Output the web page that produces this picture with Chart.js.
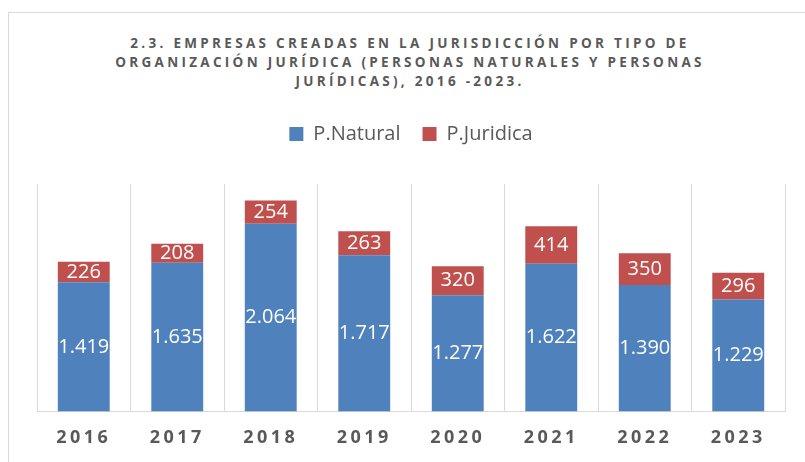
<!DOCTYPE html>
<html lang="es">
<head>
<meta charset="utf-8">
<title>Empresas creadas por tipo de organización jurídica</title>
<script src="https://cdn.jsdelivr.net/npm/chart.js@4.4.1/dist/chart.umd.min.js"></script>
<style>
  html, body { margin: 0; padding: 0; background: #fff; overflow: hidden; }
  #wrap { position: relative; width: 805px; height: 462px; }
  #frame {
    position: absolute; left: 8px; top: 12px; width: 820px; height: 470px;
    border-left: 1px solid #d9d9d9; border-top: 1px solid #d9d9d9;
  }
  #title {
    position: absolute; left: 0; top: 34px; width: 820px;
    text-align: center; color: #595959;
    font: bold 13.5px "Open Sans", sans-serif; letter-spacing: 3.3px; line-height: 19px;
  }
  canvas { position: absolute; left: 0; top: 0; }
</style>
</head>
<body>
<div id="wrap">
  <div id="frame"></div>
  <div id="title">2.3. EMPRESAS CREADAS EN LA JURISDICCIÓN POR TIPO DE<br>ORGANIZACIÓN JURÍDICA (PERSONAS NATURALES Y PERSONAS<br>JURÍDICAS), 2016 -2023.</div>
  <canvas id="chart" width="805" height="462"></canvas>
</div>
<script>
const years = ['2016', '2017', '2018', '2019', '2020', '2021', '2022', '2023'];
const natural = [1419, 1635, 2064, 1717, 1277, 1622, 1390, 1229];
const juridica = [226, 208, 254, 263, 320, 414, 350, 296];

const textGrey = '#595959';

// thousands with a dot, as in the source
function fmt(v) {
  return String(v).replace(/\B(?=(\d{3})+(?!\d))/g, '.');
}

/* ── extra room under the legend ── */
const legendGap = {
  id: 'legendGap',
  beforeInit(chart) {
    const fit = chart.legend.fit;
    chart.legend.fit = function () {
      fit.call(this);
      this.height += 30;
    };
  }
};

/* ── labels inside the bars, then spacing for the year ticks ── */
const barLabels = {
  id: 'barLabels',
  beforeDraw(chart) {
    chart.ctx.letterSpacing = '0px';
  },
  afterDatasetsDraw(chart) {
    const ctx = chart.ctx;
    ctx.save();
    ctx.font = '20px "Open Sans", sans-serif';
    ctx.fillStyle = '#ffffff';
    ctx.textAlign = 'center';
    ctx.textBaseline = 'middle';
    chart.data.datasets.forEach((ds, i) => {
      chart.getDatasetMeta(i).data.forEach((bar, j) => {
        ctx.fillText(fmt(ds.data[j]), bar.x, (bar.y + bar.base) / 2);
      });
    });
    ctx.restore();
    // year labels are drawn after this (ticks z: 1)
    ctx.letterSpacing = '3.5px';
  },
  afterDraw(chart) {
    chart.ctx.letterSpacing = '0px';
  }
};

new Chart(document.getElementById('chart'), {
  type: 'bar',
  data: {
    labels: years,
    datasets: [
      { label: 'P.Natural', data: natural, backgroundColor: '#4f81bd' },
      { label: 'P.Juridica', data: juridica, backgroundColor: '#c0504d' }
    ]
  },
  options: {
    responsive: false,
    animation: false,
    events: [],
    barPercentage: 0.555,
    categoryPercentage: 1,
    layout: { padding: { top: 102, left: 37, right: 20, bottom: -3 } },
    scales: {
      x: {
        stacked: true,
        grid: { offset: true, color: '#d9d9d9', drawTicks: false },
        border: { color: '#d9d9d9' },
        ticks: {
          z: 1,
          padding: 16,
          color: textGrey,
          font: { family: '"Open Sans", sans-serif', size: 18, weight: 'bold' }
        }
      },
      y: {
        stacked: true,
        display: false,
        min: 0,
        max: 2500
      }
    },
    plugins: {
      legend: {
        position: 'top',
        labels: {
          boxWidth: 14,
          boxHeight: 14,
          padding: 22,
          color: textGrey,
          font: { family: '"Open Sans", sans-serif', size: 20 }
        }
      },
      title: { display: false },
      tooltip: { enabled: false }
    }
  },
  plugins: [legendGap, barLabels]
});
</script>
</body>
</html>
